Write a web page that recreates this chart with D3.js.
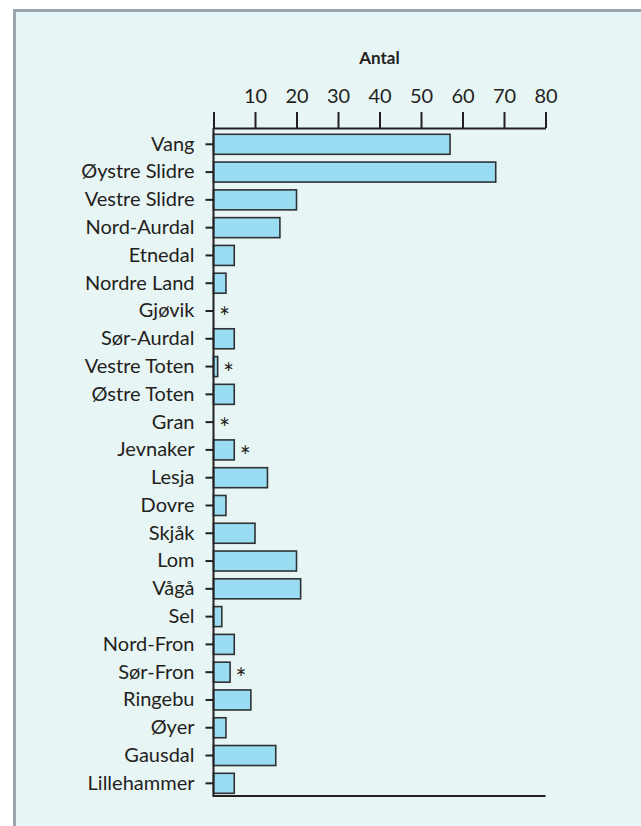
<!DOCTYPE html>
<html>
<head>
<meta charset="utf-8">
<script src="https://cdn.jsdelivr.net/npm/d3@7"></script>
<style>
  html, body { margin: 0; padding: 0; background: #ffffff; }
  svg { display: block; }
  text { font-family: Lato, "Open Sans", sans-serif; fill: #231f20; }
</style>
</head>
<body>
<svg id="chart" width="641" height="826"></svg>
<script>
// Municipalities (top to bottom)
const kommuner = [
  "Vang", "Øystre Slidre", "Vestre Slidre", "Nord-Aurdal", "Etnedal",
  "Nordre Land", "Gjøvik", "Sør-Aurdal", "Vestre Toten", "Østre Toten",
  "Gran", "Jevnaker", "Lesja", "Dovre", "Skjåk", "Lom", "Vågå", "Sel",
  "Nord-Fron", "Sør-Fron", "Ringebu", "Øyer", "Gausdal", "Lillehammer"
];
// Count per municipality
const antal = [
  57, 68, 20, 16, 5,
  3, 0, 5, 1, 5,
  0, 5, 13, 3, 10, 20, 21, 2,
  5, 4, 9, 3, 15, 5
];
// Municipalities flagged with an asterisk
const merket = ["Gjøvik", "Vestre Toten", "Gran", "Jevnaker", "Sør-Fron"];
// Axis ticks
const tickValues = [0, 10, 20, 30, 40, 50, 60, 70, 80];
const tickLabels = ["", "10", "20", "30", "40", "50", "60", "70", "80"];
const axisTitle = "Antal";

const data = kommuner.map((k, i) => ({ name: k, value: antal[i], star: merket.includes(k) }));

const svg = d3.select("#chart");

// Panel background with grey frame
svg.append("rect")
  .attr("x", 14.5).attr("y", 10.5)
  .attr("width", 700).attr("height", 900)
  .attr("fill", "#e8f5f5")
  .attr("stroke", "#9ba5af")
  .attr("stroke-width", 3);

const axisY = 128;
const bottomY = 796;

const x = d3.scaleLinear().domain([0, 80]).range([213.5, 545.5]);
const y = d3.scaleBand().domain(kommuner).range([130.4, 797.2])
  .paddingInner(0.28).paddingOuter(0.14);

// Axis title
svg.append("text")
  .attr("x", x(40)).attr("y", 64)
  .attr("text-anchor", "middle")
  .style("font-weight", "bold")
  .style("font-size", "17px")
  .text(axisTitle);

// Top value axis
const topAxis = svg.append("g")
  .attr("transform", `translate(0,${axisY})`)
  .call(d3.axisTop(x).tickValues(tickValues)
    .tickFormat((d, i) => tickLabels[i])
    .tickSize(16).tickSizeOuter(0).tickPadding(9));
topAxis.select(".domain").attr("stroke", "#231f20").attr("stroke-width", 2);
topAxis.selectAll(".tick line").attr("stroke", "#231f20").attr("stroke-width", 2);
topAxis.selectAll(".tick text")
  .style("font-size", "20px")
  .style("font-family", "Lato, 'Open Sans', sans-serif")
  .attr("fill", "#231f20");

// Bars
svg.append("g").selectAll("rect")
  .data(data.filter(d => d.value > 0))
  .join("rect")
  .attr("x", x(0))
  .attr("y", d => y(d.name))
  .attr("width", d => x(d.value) - x(0))
  .attr("height", y.bandwidth())
  .attr("fill", "#9adcf2")
  .attr("stroke", "#2f3233")
  .attr("stroke-width", 1.6);

// Asterisks
svg.append("g").selectAll("text")
  .data(data.filter(d => d.star))
  .join("text")
  .attr("x", d => x(d.value) + 11)
  .attr("y", d => y(d.name) + y.bandwidth() / 2 + 16)
  .attr("text-anchor", "middle")
  .style("font-size", "26px")
  .text("*");

// Category axis
const leftAxis = svg.append("g")
  .attr("transform", `translate(${x(0)},0)`)
  .call(d3.axisLeft(y).tickSize(8).tickSizeOuter(0).tickPadding(11));
leftAxis.select(".domain").remove();
leftAxis.selectAll(".tick line").attr("stroke", "#231f20").attr("stroke-width", 2);
leftAxis.selectAll(".tick text")
  .style("font-size", "20px")
  .style("font-family", "Lato, 'Open Sans', sans-serif")
  .attr("fill", "#231f20");

// Vertical and bottom axis lines
svg.append("line")
  .attr("x1", x(0)).attr("x2", x(0))
  .attr("y1", axisY).attr("y2", bottomY)
  .attr("stroke", "#231f20").attr("stroke-width", 2);
svg.append("line")
  .attr("x1", x(0) - 1).attr("x2", x(80))
  .attr("y1", bottomY).attr("y2", bottomY)
  .attr("stroke", "#231f20").attr("stroke-width", 2);
</script>
</body>
</html>
